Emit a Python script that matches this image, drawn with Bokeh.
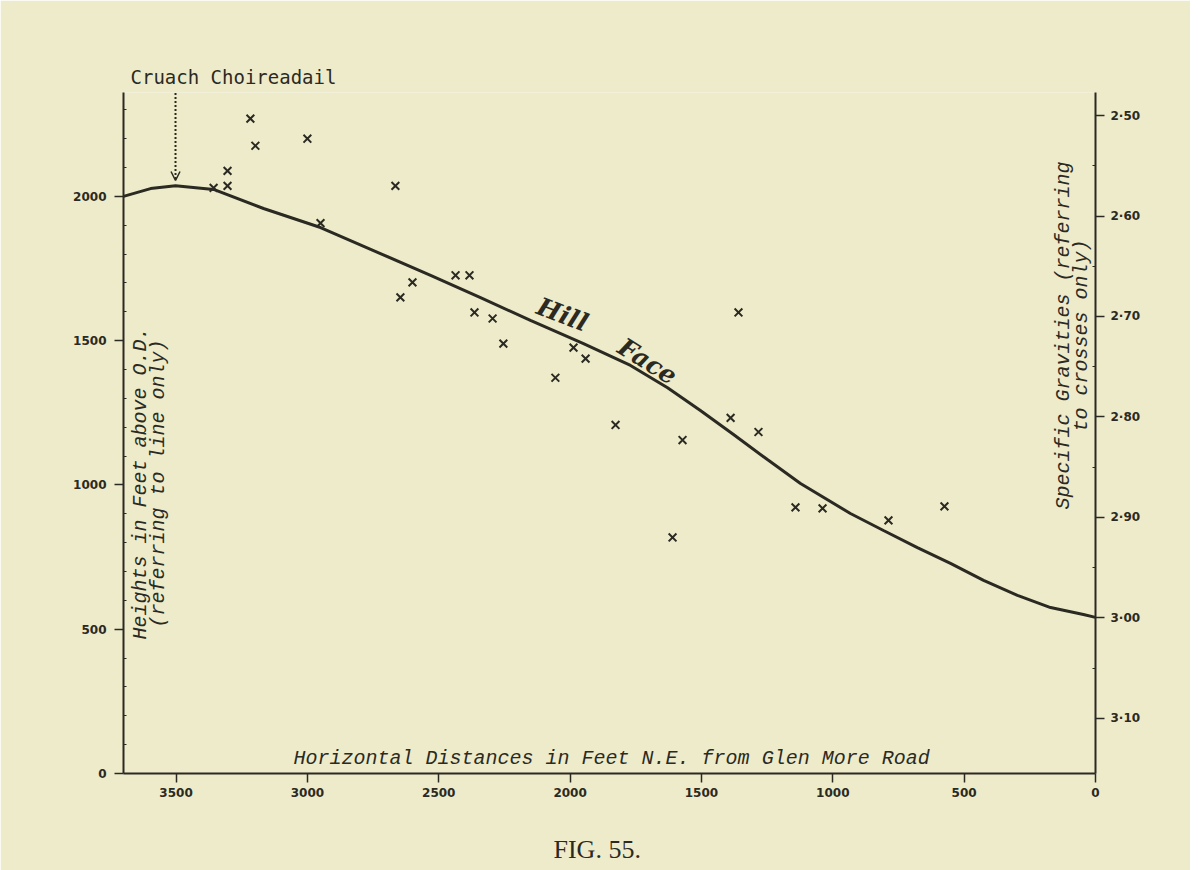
import math
from bokeh.plotting import figure
from bokeh.models import Range1d, LinearAxis, FixedTicker, Label, Arrow, OpenHead, Title
from bokeh.embed import file_html
from bokeh.resources import INLINE

# ---------------- data ----------------
# Hill face profile: horizontal distance (ft N.E. from Glen More Road) vs height (ft above O.D.)
curve_dist = [3700, 3597, 3502, 3357, 3167, 2950, 2722, 2531, 2341, 2151, 1949, 1770,
              1629, 1504, 1378, 1249, 1123, 933, 807, 678, 552, 426, 297, 171, 46, 0]
curve_height = [2000, 2027, 2037, 2024, 1958, 1892, 1802, 1726, 1649, 1570, 1490, 1414,
                1337, 1258, 1175, 1088, 1005, 901, 842, 783, 728, 669, 617, 575, 551, 541]

# Specific gravity samples (crosses, right-hand scale)
cross_dist = [3357, 3304, 3304, 3217, 3198, 3000, 2950, 2665, 2646, 2600, 2436, 2383, 2364,
              2295, 2254, 2056, 1987, 1941, 1827, 1610, 1572, 1389, 1359, 1283, 1142, 1039,
              788, 575]
cross_sg = [2.572, 2.570, 2.555, 2.503, 2.530, 2.523, 2.607, 2.570, 2.681, 2.666, 2.659,
            2.659, 2.696, 2.702, 2.727, 2.761, 2.731, 2.742, 2.808, 2.920, 2.823, 2.801,
            2.696, 2.815, 2.890, 2.891, 2.903, 2.889]

x_ticks = [3500, 3000, 2500, 2000, 1500, 1000, 500, 0]
x_tick_labels = ["3500", "3000", "2500", "2000", "1500", "1000", "500", "0"]
y_ticks = [0, 500, 1000, 1500, 2000]
y_tick_labels = ["0", "500", "1000", "1500", "2000"]
sg_ticks = [2.5, 2.6, 2.7, 2.8, 2.9, 3.0, 3.1]
sg_tick_labels = ["2·50", "2·60", "2·70", "2·80", "2·90", "3·00", "3·10"]

peak_label = "Cruach Choireadail"
x_title = "Horizontal Distances in Feet N.E. from Glen More Road"
y_title_1 = "Heights in Feet above O.D."
y_title_2 = "(referring to line only)"
sg_title_1 = "Specific Gravities (referring"
sg_title_2 = "to crosses only)"
curve_name = ["Hill", "Face"]
caption = "FIG. 55."

# ---------------- style ----------------
BG = "#EEEBCB"
INK = "#2b2a22"
MONO = "Liberation Mono"

p = figure(width=1190, height=870,
           x_range=Range1d(3700, 0), y_range=Range1d(0, 2360),
           output_backend="svg", toolbar_location=None,
           min_border_left=123, min_border_right=95,
           min_border_top=92, min_border_bottom=97,
           background_fill_color=BG, border_fill_color=BG,
           outline_line_color=None)
p.grid.visible = False
p.extra_y_ranges = {"sg": Range1d(start=3.155, end=2.477)}
p.add_layout(LinearAxis(y_range_name="sg"), "right")


def style_axis(ax, ticks, labels, minor=None):
    ax.ticker = FixedTicker(ticks=ticks, minor_ticks=minor or [])
    ax.major_label_overrides = {t: l for t, l in zip(ticks, labels)}
    ax.axis_line_color = INK
    ax.axis_line_width = 2
    ax.major_tick_line_color = INK
    ax.major_tick_line_width = 1.5
    ax.major_tick_out = 9
    ax.major_tick_in = 0
    ax.minor_tick_line_color = INK
    ax.minor_tick_line_width = 1
    ax.minor_tick_out = 0
    ax.minor_tick_in = 3
    ax.major_label_text_color = INK
    ax.major_label_text_font = "DejaVu Sans"
    ax.major_label_text_font_size = "12px"
    ax.major_label_text_font_style = "bold"


style_axis(p.xaxis[0], x_ticks, x_tick_labels)
p.xaxis[0].major_label_standoff = 5
style_axis(p.yaxis[0], y_ticks, y_tick_labels,
           minor=[v for v in range(100, 2360, 100) if v % 500])
p.yaxis[0].major_label_standoff = 8
sg_ax = p.right[0]
style_axis(sg_ax, sg_ticks, sg_tick_labels,
           minor=[round(2.5 + i * 0.05, 2) for i in range(13) if i % 2])
sg_ax.major_label_standoff = 6

# ---------------- marks ----------------
p.line(curve_dist, curve_height, line_color=INK, line_width=3)
p.scatter(cross_dist, cross_sg, y_range_name="sg", marker="x", size=11,
          line_color=INK, line_width=2)

# dotted arrow to the summit
peak_i = curve_height.index(max(curve_height))
peak_x = curve_dist[peak_i]
p.add_layout(Arrow(x_start=peak_x, y_start=2400, x_end=peak_x,
                   y_end=curve_height[peak_i] + 18,
                   line_color=INK, line_width=2, line_dash="2 2",
                   end=OpenHead(size=9, line_color=INK, line_width=1.5)))

# ---------------- text ----------------
p.add_layout(Title(text=peak_label, align="left", offset=7, standoff=9,
                   text_font="DejaVu Sans Mono", text_font_size="19px",
                   text_font_style="normal", text_color=INK), "above")
# blank spacer panel between the axis and the caption
p.add_layout(Title(text=" ", text_font_size="16px", standoff=14,
                   text_color=BG), "below")
p.add_layout(Title(text=caption, align="left", offset=430, standoff=0,
                   text_font="Liberation Serif", text_font_size="26px",
                   text_font_style="normal", text_color=INK), "below")

p.add_layout(Label(x=1842, y=52, text=x_title, text_font=MONO,
                   text_font_style="italic", text_font_size="20px",
                   text_color=INK, text_align="center", text_baseline="middle"))

p.add_layout(Label(x=3635, y=1005, text=y_title_1, text_font=MONO,
                   text_font_style="italic", text_font_size="20px",
                   text_color=INK, text_align="center", text_baseline="middle",
                   angle=math.pi / 2))
p.add_layout(Label(x=3567, y=1005, text=y_title_2, text_font=MONO,
                   text_font_style="italic", text_font_size="20px",
                   text_color=INK, text_align="center", text_baseline="middle",
                   angle=math.pi / 2))

p.add_layout(Label(x=122, y=1518, text=sg_title_1, text_font=MONO,
                   text_font_style="italic", text_font_size="20px",
                   text_color=INK, text_align="center", text_baseline="middle",
                   angle=math.pi / 2))
p.add_layout(Label(x=53, y=1518, text=sg_title_2, text_font=MONO,
                   text_font_style="italic", text_font_size="20px",
                   text_color=INK, text_align="center", text_baseline="middle",
                   angle=math.pi / 2))

p.add_layout(Label(x=2029, y=1590, text=curve_name[0], text_font="DejaVu Serif",
                   text_font_style="bold italic", text_font_size="25px",
                   text_color=INK, text_align="center", text_baseline="middle",
                   angle=-math.radians(21)))
p.add_layout(Label(x=1705, y=1428, text=curve_name[1], text_font="DejaVu Serif",
                   text_font_style="bold italic", text_font_size="25px",
                   text_color=INK, text_align="center", text_baseline="middle",
                   angle=-math.radians(32)))

open("out.html", "w").write(file_html(p, INLINE))
